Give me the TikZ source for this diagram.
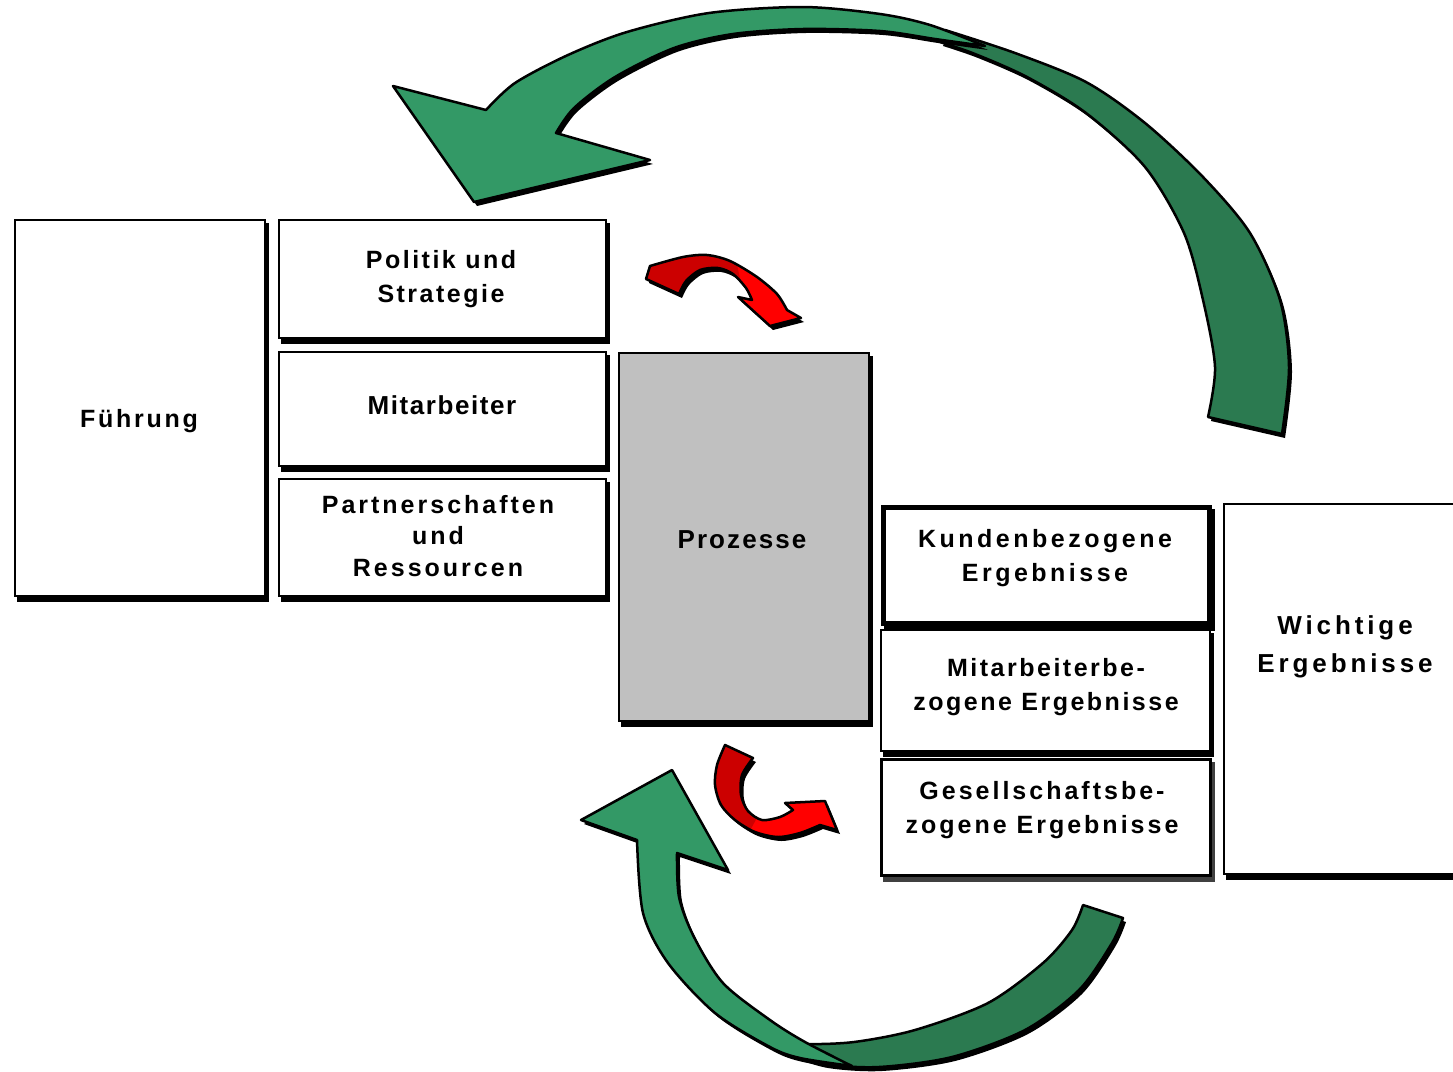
\documentclass[tikz,border=0pt]{standalone}
\usepackage{fontspec}
\setmainfont{Liberation Sans}
\usetikzlibrary{calc,backgrounds}

\definecolor{gfront}{HTML}{339966}
\definecolor{gback}{HTML}{2B7A50}
\definecolor{rdark}{HTML}{CC0000}
\definecolor{rlight}{HTML}{FF0000}
\definecolor{procgray}{HTML}{C0C0C0}

% bold label font: size, leading, letter spacing
\newcommand{\lblfont}[3]{\fontsize{#1}{#2}\selectfont\bfseries\addfontfeatures{LetterSpace=#3}}

\tikzset{
  panel/.style={draw=black, fill=white, line width=1.5pt, inner sep=0pt, anchor=north west},
  txt/.style={align=center, inner sep=0pt, text=black},
  outline/.style={draw=black, line width=2.5pt, line join=round},
  castshadow/.style={fill=black, shift={(3,4)}}
}

% curved green arrow over the top: back side (right) and front side (with head)
\newcommand{\GreenTopBack}[1]{%
  \path[#1] plot[smooth] coordinates {(945,30) (1015,53) (1086,82) (1145,123) (1203,177) (1250,233) (1280,300) (1289,367) (1282,434)}
    -- (1208,417)
    -- plot[smooth] coordinates {(1208,417) (1215,367) (1203,300) (1184,233) (1145,167) (1086,113) (1027,77) (975,54) (940,42)} -- cycle;}
\newcommand{\GreenTopFront}[1]{%
  \path[#1] plot[smooth] coordinates {(985,46) (930,25) (880,14) (803,7) (709,13) (627,32) (568,55) (515,83) (486,110)}
    -- (393,86) -- (474,202) -- (650,160) -- (556,133)
    -- plot[smooth] coordinates {(556,133) (574,108) (615,77) (674,48) (733,34) (803,29) (880,31) (935,39) (985,46)} -- cycle;}

% curved green arrow underneath
\newcommand{\GreenBotBack}[1]{%
  \path[#1] plot[smooth] coordinates {(785,1052) (825,1064) (879,1067) (952,1057) (1025,1030) (1079,990) (1112,943) (1123,918)}
    -- (1083,905)
    -- plot[smooth] coordinates {(1083,905) (1072,930) (1043,963) (988,1003) (915,1030) (854,1042) (805,1044) (782,1040)} -- cycle;}
\newcommand{\GreenBotFront}[1]{%
  \path[#1] plot[smooth] coordinates {(852,1066) (800,1058) (770,1047) (715,1013) (668,963) (643,913) (637,840)}
    -- (581,820) -- (672,770) -- (728,870) -- (677,853)
    -- plot[smooth] coordinates {(677,853) (679,897) (694,937) (723,983) (770,1020) (805,1042) (852,1066)} -- cycle;}

% small red arrows beside the process box
\newcommand{\RedTopShape}[1]{%
  \path[#1] plot[smooth] coordinates {(650,266) (683,257) (707,255) (730,261) (757,277) (777,294) (787,310)}
    -- (801,318) -- (770,326) -- (738,297) -- (752,300)
    -- plot[smooth] coordinates {(752,300) (746,288) (733,274) (718,268) (700,270) (686,281) (679,294)}
    -- (646,279) -- cycle;}
\newcommand{\RedBotShape}[1]{%
  \path[#1] plot[smooth] coordinates {(725,745) (717,765) (715,785) (721,805) (735,820) (755,832) (778,837) (800,833) (820,825)}
    -- (837,830) -- (825,801) -- (785,803) -- (793,810)
    -- plot[smooth] coordinates {(793,810) (780,817) (762,820) (748,811) (741,795) (742,775) (753,758)} -- cycle;}

\begin{document}
\begin{tikzpicture}[x=1pt,y=-1pt]
\useasboundingbox (0,0) rectangle (1453,1071);

% ---------- enablers ----------
\node[panel, minimum width=250pt, minimum height=376pt] (fuehrung) at (14,219) {};
\node[panel, minimum width=327pt, minimum height=118pt] (politik) at (278,219) {};
\node[panel, minimum width=327pt, minimum height=114pt] (mitarb) at (278,351) {};
\node[panel, minimum width=327pt, minimum height=117pt] (partner) at (278,478) {};
\node[panel, fill=procgray, minimum width=250pt, minimum height=368pt] (prozesse) at (618,352) {};

% ---------- results ----------
\node[panel, line width=5pt, minimum width=326pt, minimum height=116pt] (kunden) at (881,505) {};
\node[panel, minimum width=329pt, minimum height=121pt] (mitbez) at (880,629) {};
\node[panel, line width=2.5pt, minimum width=329pt, minimum height=116pt] (gesell) at (880,758) {};
\node[panel, minimum width=260pt, minimum height=370pt] (wichtig) at (1223,503) {};

\begin{pgfonlayer}{background}
  \fill[white] (0,0) rectangle (1453,1071);
  \foreach \n in {fuehrung,politik,mitarb,partner,prozesse,kunden,mitbez,wichtig}
    \fill[black] ($(\n.north west)+(3,4)$) rectangle ($(\n.south east)+(3,5)$);
  \fill[black!75] ($(gesell.north west)+(3,4)$) rectangle ($(gesell.south east)+(3,5)$);
\end{pgfonlayer}

% ---------- labels ----------
\node[txt, font=\lblfont{25}{34}{11}] (t-fuehrung) at (139,421) {Führung};
\node[txt, font=\lblfont{25}{34}{10}] (t-politik) at (441,279) {Politik und\\Strategie};
\node[txt, font=\lblfont{26}{34}{6}] (t-mitarb) at (442,405) {Mitarbeiter};
\node[txt, font=\lblfont{25}{31.5}{12}] (t-partner) at (438,536) {Partnerschaften\\und\\Ressourcen};
\node[txt, font=\lblfont{26}{34}{8}] (t-prozesse) at (742,540) {Prozesse};
\node[txt, font=\lblfont{25}{34}{14}] (t-kunden) at (1045,558) {Kundenbezogene\\Ergebnisse};
\node[txt, font=\lblfont{25}{34}{10}] (t-mitbez) at (1046,687) {Mitarbeiterbe-\\zogene Ergebnisse};
\node[txt, font=\lblfont{25}{34}{12}] (t-gesell) at (1042,810) {Gesellschaftsbe-\\zogene Ergebnisse};
\node[txt, font=\lblfont{26}{38}{15}] (t-wichtig) at (1345,647) {Wichtige\\Ergebnisse};

% ---------- green cycle arrows ----------
\GreenTopBack{castshadow}
\GreenTopBack{fill=gback, outline}
\GreenTopFront{castshadow}
\GreenTopFront{fill=gfront, outline}

\GreenBotBack{castshadow}
\GreenBotBack{fill=gback, outline}
\GreenBotFront{castshadow}
\GreenBotFront{fill=gfront, outline}

% ---------- red arrows ----------
\RedTopShape{castshadow}
\RedTopShape{fill=rlight}
\begin{scope}
  \RedTopShape{clip}
  \fill[rdark] (600,230) -- (729,230) -- (745,300) -- (600,330) -- cycle;
\end{scope}
\RedTopShape{outline}

\RedBotShape{castshadow}
\RedBotShape{fill=rlight}
\begin{scope}
  \RedBotShape{clip}
  \fill[rdark] (690,730) -- (780,730) -- (760,812) -- (745,840) -- (690,840) -- cycle;
\end{scope}
\RedBotShape{outline}
\end{tikzpicture}
\end{document}
